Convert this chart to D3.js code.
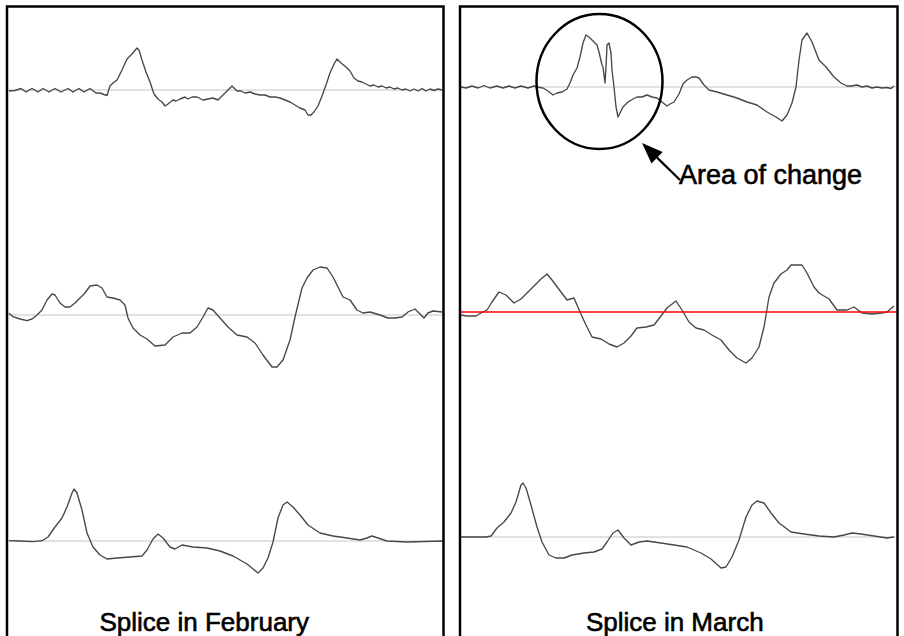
<!DOCTYPE html>
<html>
<head>
<meta charset="utf-8">
<script src="https://cdn.jsdelivr.net/npm/d3@7"></script>
<style>
    html, body { margin: 0; padding: 0; background: #fff; }
    #chart { width: 904px; height: 636px; }
</style>
</head>
<body>
<div id="chart"></div>
<script>
// Panel titles and annotation text
const panelTitles = ['Splice in February', 'Splice in March'];
const annotationLabel = 'Area of change';

// Traces: [sample index, amplitude]
const febTop = [
    [1, -1], [7, -0.5], [13, 1.5], [18, -2], [24, 1.5], [30, -2], [35, 1.5], [41, -2], [47, 1.5], [53, -2],
    [60, 1.5], [65, -2], [71, 1.5], [76, -2], [82, 1.5], [88, -3], [92, -3], [96, -4.5], [99, -5.5], [102, 4],
    [105, 7], [109, 10], [114, 20], [119, 31], [124, 36], [129, 42], [131, 40], [134, 30], [138, 18], [142, 8],
    [146, -4], [150, -9], [154, -12], [157, -16], [160, -14], [165, -10], [168, -11], [172, -9], [177, -7], [180, -9],
    [184, -7], [189, -7], [195, -10], [200, -9], [205, -8], [210, -10], [214, -6], [219, -1], [222, 2], [224, 4],
    [226, 2], [229, -1], [233, -1], [237, -3], [242, -2], [247, -4], [252, -5], [257, -5], [262, -7], [267, -7],
    [272, -8], [277, -10], [282, -12], [287, -15], [292, -18], [297, -20], [300, -25], [303, -25], [306, -22], [310, -16],
    [314, -6], [318, 5], [322, 17], [326, 26], [329, 31], [333, 27], [338, 23], [342, 19], [346, 12], [350, 9],
    [354, 8], [358, 6], [362, 4], [366, 5], [370, 3], [374, 4], [378, 2], [382, 3], [386, 1], [390, 2],
    [394, 0], [398, 1], [402, -1], [406, 1], [410, -1], [414, 1.5], [418, -1], [422, 1], [426, -0.5], [430, 1], [434, 0]
];
const febMid = [
    [1, 1.7], [5, -1.7], [12, -4], [19, -5.7], [24, -4], [29, 0], [34, 5], [39, 15], [44, 21], [47, 20],
    [52, 12], [57, 8], [62, 8], [67, 12], [72, 17], [77, 22], [82, 29], [89, 30], [94, 27], [99, 18],
    [105, 17], [112, 15], [117, 10], [120, -3], [125, -13], [132, -20], [139, -24], [147, -31], [157, -30], [165, -22],
    [174, -18], [182, -18], [189, -12], [195, -2], [200, 7], [205, 5], [212, -3], [220, -12], [229, -20], [239, -22],
    [247, -28], [255, -40], [264, -52], [269, -52], [275, -45], [282, -25], [287, -2], [294, 27], [299, 37], [305, 45],
    [312, 48], [319, 47], [325, 38], [330, 28], [335, 18], [342, 15], [349, 5], [355, 2], [362, 3], [372, 0],
    [380, -3], [387, -3], [394, -2], [400, 3], [407, 6], [412, 1], [416, -3], [420, 2], [425, 4], [434, 3]
];
const febBottom = [
    [1, 0.3], [12, 0], [25, -0.7], [34, 0.3], [40, 4], [47, 14], [54, 23], [59, 34], [64, 48], [66, 52],
    [69, 48], [74, 31], [79, 8], [85, -6], [92, -14], [99, -18], [109, -17], [122, -16], [134, -15], [139, -9],
    [145, 2], [150, 7], [155, 3], [162, -6], [167, -8], [174, -4], [185, -6], [199, -7], [212, -10], [225, -15],
    [239, -23], [250, -32], [255, -27], [260, -17], [265, -1], [270, 23], [275, 36], [279, 39], [285, 34], [292, 26],
    [300, 16], [312, 8], [325, 5], [339, 3], [352, 1], [359, 3], [364, 5], [370, 3], [379, 0], [399, -1], [435, 0]
];
const marTop = [
    [0, 0], [5, -1], [11, 1], [17, -1], [23, 1.5], [29, -1], [36, 1], [42, -1], [48, 1], [54, -1],
    [60, 1], [67, -1], [73, 1], [76, 0], [82, -1], [87, -4], [92, -8], [96, -6], [101, -5], [106, -2],
    [109, 4], [112, 12], [116, 19], [119, 30], [122, 44], [125, 52], [128, 50], [132, 46], [136, 42], [138, 35],
    [141, 22], [142, 20], [144, 4], [145, 20], [146, 42], [148, 44], [150, 34], [151, 17], [153, 0], [155, -20],
    [157, -30], [159, -26], [162, -20], [167, -15], [172, -12], [176, -10], [181, -10], [186, -8], [191, -10], [196, -11],
    [201, -15], [206, -19], [209, -17], [213, -15], [218, -7], [222, 3], [226, 7], [231, 10], [235, 10], [238, 9],
    [243, 2], [248, -3], [256, -5], [266, -8], [276, -11], [286, -15], [296, -18], [306, -25], [315, -30], [321, -34],
    [326, -28], [331, -16], [335, 0], [338, 27], [341, 47], [346, 54], [351, 45], [358, 27], [365, 20], [373, 10],
    [380, 4], [386, 1], [390, 1], [396, 2], [401, 0], [406, 1], [411, -1], [416, 0], [421, -1], [426, -0.5],
    [430, -1.5], [433, 1]
];
const marMid = [
    [0, -3], [6, -4], [15, -4], [20, -1], [26, 2], [31, 10], [38, 20], [45, 17], [53, 9], [60, 13],
    [66, 19], [73, 26], [80, 33], [86, 38], [91, 32], [100, 20], [106, 12], [113, 14], [119, 0], [125, -13],
    [131, -25], [140, -27], [148, -32], [156, -35], [163, -31], [170, -24], [176, -16], [185, -15], [193, -13], [200, -4],
    [206, 4], [215, 11], [221, 2], [228, -10], [235, -16], [243, -18], [251, -23], [260, -28], [268, -38], [276, -46],
    [285, -51], [291, -46], [298, -35], [303, -15], [308, 15], [313, 29], [320, 38], [326, 42], [330, 47], [341, 47],
    [346, 39], [353, 25], [358, 19], [368, 13], [376, 2], [386, 2], [393, 5], [401, -1], [411, -2], [421, -1],
    [426, 0], [433, 6]
];
const marBottom = [
    [0, 0], [13, 0], [25, 0], [30, 1], [36, 9], [43, 15], [50, 24], [55, 35], [60, 52], [62, 54],
    [65, 49], [70, 32], [76, 10], [81, -5], [88, -18], [95, -21], [103, -21], [111, -18], [123, -16], [133, -15],
    [141, -12], [146, -5], [152, 4], [157, 7], [163, -1], [170, -8], [178, -5], [186, -4], [200, -6], [213, -8],
    [226, -10], [240, -16], [250, -22], [260, -31], [265, -30], [271, -20], [278, -3], [285, 20], [291, 32], [296, 36],
    [303, 34], [310, 24], [318, 14], [330, 5], [343, 3], [358, 1], [373, 0], [383, 2], [391, 4], [400, 3],
    [413, 1], [426, -1], [433, 0]
];

// Annotation in March top trace coordinates: circle centre/radii, arrow tip/tail, label anchor
const changeCircle = { t: 138.5, v: 5.5, rt: 63, rv: 67.5 };
const changeArrow = { tip: [181, -56], tail: [219, -93] };
const changeLabelAt = [218, -97];

/**
 * Two bordered panels, three traces each, drawn with shared scales
 */
class SplicePanels {
    constructor(containerId) {
        this.container = document.getElementById(containerId);
        this.width = 904;
        this.height = 636;
        this.sampleDomain = [0, 435];
        this.ampDomain = [-100, 100];

        // left/right edges and row baselines of each panel
        this.panels = [
            { left: 8, right: 443, frame: [7, 443.5], baselines: [90, 315, 541] },
            { left: 461, right: 896, frame: [460, 897.5], baselines: [87, 312, 537] }
        ];
        this.svg = null;
    }

    render() {
        this.container.innerHTML = '';
        this.svg = d3.select(this.container)
            .append('svg')
            .attr('width', this.width)
            .attr('height', this.height);

        this.renderPanel(0, [febTop, febMid, febBottom], panelTitles[0], -1);
        this.renderPanel(1, [marTop, marMid, marBottom], panelTitles[1], 1);
        this.renderAnnotation();
        console.log('[SplicePanels] render done');
    }

    /**
     * One panel: frame, grey zero lines, traces, title
     */
    renderPanel(index, series, title, redRow) {
        const p = this.panels[index];
        const g = this.svg.append('g');

        const xScale = d3.scaleLinear().domain(this.sampleDomain).range([p.left, p.right]);
        p.xScale = xScale;
        p.yScales = [];

        series.forEach((data, row) => {
            const base = p.baselines[row];
            const yScale = d3.scaleLinear()
                .domain(this.ampDomain)
                .range([base - this.ampDomain[0], base - this.ampDomain[1]]);
            p.yScales.push(yScale);

            const isRed = row === redRow;
            const zero = g.append('line')
                .attr('x1', p.frame[0])
                .attr('x2', p.frame[1])
                .attr('y1', yScale(0))
                .attr('y2', yScale(0))
                .attr('stroke', isRed ? '#ff0000' : '#c4c4c4')
                .attr('stroke-width', isRed ? 1.6 : 1);

            const line = d3.line()
                .x(d => xScale(d[0]))
                .y(d => yScale(d[1]));

            g.append('path')
                .datum(data)
                .attr('fill', 'none')
                .attr('stroke', '#474747')
                .attr('stroke-width', 1.35)
                .attr('stroke-linejoin', 'round')
                .attr('d', line);

            // red reference sits over the trace
            if (isRed) zero.raise();
        });

        // frame: left, top, right (runs off the bottom)
        g.append('path')
            .attr('d', `M${p.frame[0]},${this.height + 5}V6.5H${p.frame[1]}V${this.height + 5}`)
            .attr('fill', 'none')
            .attr('stroke', '#000')
            .attr('stroke-width', 2.5);

        g.append('text')
            .attr('x', (p.frame[0] + p.frame[1]) / 2 - (index === 0 ? 21 : 4))
            .attr('y', 631)
            .attr('text-anchor', 'middle')
            .attr('font-family', '"Liberation Sans", Arial, sans-serif')
            .attr('font-size', 26)
            .attr('fill', '#000')
            .attr('stroke', '#000')
            .attr('stroke-width', 0.6)
            .text(title);
    }

    /**
     * Circle, arrow and label around the changed beat
     */
    renderAnnotation() {
        const p = this.panels[1];
        const x = p.xScale;
        const y = p.yScales[0];
        const g = this.svg.append('g');

        g.append('ellipse')
            .attr('cx', x(changeCircle.t))
            .attr('cy', y(changeCircle.v))
            .attr('rx', x(changeCircle.t + changeCircle.rt) - x(changeCircle.t))
            .attr('ry', y(changeCircle.v - changeCircle.rv) - y(changeCircle.v))
            .attr('fill', 'none')
            .attr('stroke', '#000')
            .attr('stroke-width', 2.5);

        const tip = [x(changeArrow.tip[0]), y(changeArrow.tip[1])];
        const tail = [x(changeArrow.tail[0]), y(changeArrow.tail[1])];
        const dx = tail[0] - tip[0];
        const dy = tail[1] - tip[1];
        const len = Math.hypot(dx, dy);
        const ux = dx / len, uy = dy / len;
        const headLen = 21, headHalf = 8;
        const bx = tip[0] + ux * headLen, by = tip[1] + uy * headLen;

        g.append('line')
            .attr('x1', bx)
            .attr('y1', by)
            .attr('x2', tail[0])
            .attr('y2', tail[1])
            .attr('stroke', '#000')
            .attr('stroke-width', 2.2);

        g.append('path')
            .attr('d', `M${tip[0]},${tip[1]}L${bx - uy * headHalf},${by + ux * headHalf}L${bx + uy * headHalf},${by - ux * headHalf}Z`)
            .attr('fill', '#000');

        g.append('text')
            .attr('x', x(changeLabelAt[0]))
            .attr('y', y(changeLabelAt[1]))
            .attr('font-family', '"Liberation Sans", Arial, sans-serif')
            .attr('font-size', 27)
            .attr('fill', '#000')
            .attr('stroke', '#000')
            .attr('stroke-width', 0.6)
            .text(annotationLabel);
    }
}

new SplicePanels('chart').render();
</script>
</body>
</html>
